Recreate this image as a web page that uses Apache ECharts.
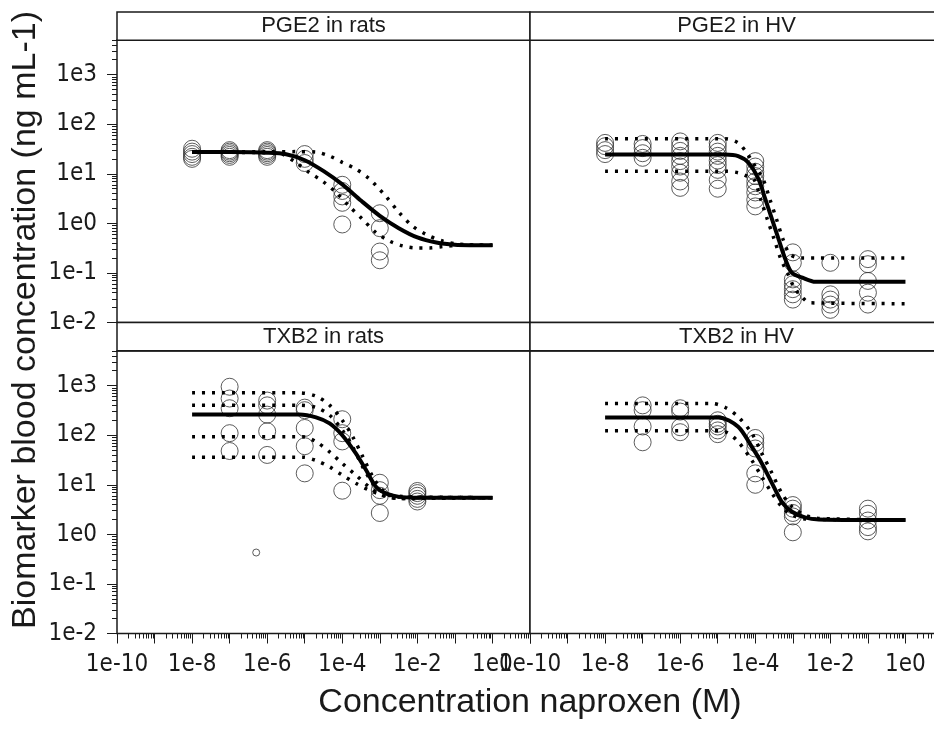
<!DOCTYPE html>
<html>
<head>
<meta charset="utf-8">
<script src="https://cdn.jsdelivr.net/npm/echarts@6/dist/echarts.min.js"></script>
<style>
html, body { margin: 0; padding: 0; background: #fff; overflow: hidden; }
#main { width: 950px; height: 738px; }
</style>
</head>
<body>
<div id="main"></div>
<script>
// the lattice runs past the right edge of the 934px window, so the chart is a little wider
var chart = echarts.init(document.getElementById('main'));

// panels and axis labels
var panelNames = ['PGE2 in rats', 'PGE2 in HV', 'TXB2 in rats', 'TXB2 in HV'];
var xTickValues = [1e-10, 1e-8, 1e-6, 1e-4, 1e-2, 1e0];
var xTickLabels = ['1e-10', '1e-8', '1e-6', '1e-4', '1e-2', '1e0'];
var yTickValues = [1e-2, 1e-1, 1e0, 1e1, 1e2, 1e3];
var yTickLabels = ['1e-2', '1e-1', '1e0', '1e1', '1e2', '1e3'];

// observed biomarker values [conc (M), value (ng/mL)]
var pge2RatsObs = [
  [1e-8, 32], [1e-8, 28], [1e-8, 25], [1e-8, 22], [1e-8, 20],
  [1e-7, 30], [1e-7, 28], [1e-7, 26], [1e-7, 24], [1e-7, 22],
  [1e-6, 30], [1e-6, 28], [1e-6, 26], [1e-6, 24], [1e-6, 22],
  [1e-5, 25], [1e-5, 20], [1e-5, 16.5],
  [1e-4, 6], [1e-4, 4.5], [1e-4, 3.5], [1e-4, 2.6], [1e-4, 0.95],
  [1e-3, 1.6], [1e-3, 0.8], [1e-3, 0.27], [1e-3, 0.18]
];
var pge2HvObs = [
  [1e-8, 42], [1e-8, 36], [1e-8, 30], [1e-8, 25],
  [1e-7, 40], [1e-7, 33], [1e-7, 26], [1e-7, 21],
  [1e-6, 45], [1e-6, 36], [1e-6, 29], [1e-6, 23], [1e-6, 18], [1e-6, 14], [1e-6, 10.5], [1e-6, 7], [1e-6, 5.2],
  [1e-5, 42], [1e-5, 35], [1e-5, 28], [1e-5, 23], [1e-5, 18.5], [1e-5, 15], [1e-5, 12], [1e-5, 7.5], [1e-5, 5],
  [1e-4, 18], [1e-4, 14], [1e-4, 11], [1e-4, 9], [1e-4, 7], [1e-4, 5.6], [1e-4, 4.2], [1e-4, 3], [1e-4, 2.2],
  [1e-3, 0.26], [1e-3, 0.16], [1e-3, 0.074], [1e-3, 0.059], [1e-3, 0.047], [1e-3, 0.037], [1e-3, 0.029],
  [1e-2, 0.16], [1e-2, 0.037], [1e-2, 0.029], [1e-2, 0.023], [1e-2, 0.018],
  [1e-1, 0.19], [1e-1, 0.15], [1e-1, 0.069], [1e-1, 0.04], [1e-1, 0.023]
];
var txb2RatsObs = [
  [1e-7, 950], [1e-7, 550], [1e-7, 350], [1e-7, 110], [1e-7, 48],
  [1e-6, 500], [1e-6, 400], [1e-6, 260], [1e-6, 120], [1e-6, 40],
  [1e-5, 360], [1e-5, 320], [1e-5, 140], [1e-5, 60], [1e-5, 17],
  [1e-4, 210], [1e-4, 110], [1e-4, 75], [1e-4, 7.6],
  [1e-3, 11], [1e-3, 7.8], [1e-3, 6], [1e-3, 2.7],
  [1e-2, 7.5], [1e-2, 6.8], [1e-2, 6], [1e-2, 5.2], [1e-2, 4.6]
];
var txb2RatsSmall = [[5.1e-7, 0.43]];
var txb2HvObs = [
  [1e-7, 400], [1e-7, 320], [1e-7, 150], [1e-7, 72],
  [1e-6, 350], [1e-6, 300], [1e-6, 145], [1e-6, 115],
  [1e-5, 200], [1e-5, 170], [1e-5, 150], [1e-5, 125], [1e-5, 105],
  [1e-4, 88], [1e-4, 70], [1e-4, 54], [1e-4, 17], [1e-4, 10],
  [1e-3, 3.9], [1e-3, 3.3], [1e-3, 2.7], [1e-3, 2.3], [1e-3, 1.1],
  [1e-1, 3.3], [1e-1, 2.6], [1e-1, 1.9], [1e-1, 1.4], [1e-1, 1.15]
];

// fitted curves (solid) and interval curves (dotted)
var pge2RatsFit = [[1e-8, 27.5], [1e-7, 27.4], [1e-6, 26.6], [3.2e-6, 24.8], [1e-5, 18.8], [3.2e-5, 11.3], [1e-4, 6.1],
  [3.2e-4, 2.85], [1e-3, 1.42], [3.2e-3, 0.8], [1e-2, 0.52], [3.2e-2, 0.41], [0.1, 0.37], [0.32, 0.362], [1, 0.36]];
var pge2RatsUpper = [[1e-8, 27.5], [1e-6, 27.8], [6e-6, 28], [2e-5, 27.4], [4.6e-5, 22.8], [1e-4, 17], [2.3e-4, 12.5],
  [5.2e-4, 8], [7.9e-4, 5.8], [1.45e-3, 3.5], [3.3e-3, 1.64], [7.4e-3, 0.88], [1.7e-2, 0.6], [4.7e-2, 0.44], [0.13, 0.38], [1, 0.36]];
var pge2RatsLower = [[1e-8, 27.3], [1e-6, 26.5], [2.6e-6, 24.6], [5.9e-6, 16.7], [1.35e-5, 10.5], [3e-5, 7.1], [6.8e-5, 4.2],
  [1.55e-4, 2.2], [3.5e-4, 1.2], [7.9e-4, 0.65], [1.8e-3, 0.44], [4.1e-3, 0.35], [9.1e-3, 0.32], [2.1e-2, 0.32], [4.7e-2, 0.34], [0.13, 0.36], [1, 0.36]];

var pge2HvFit = [[1e-8, 24.6], [1.6e-5, 24.6], [3.5e-5, 22.8], [6.6e-5, 16.7], [1.23e-4, 7.7], [1.86e-4, 3.05], [2.8e-4, 1.2],
  [4.2e-4, 0.475], [6.3e-4, 0.19], [9.5e-4, 0.1], [1.8e-3, 0.08], [4e-3, 0.066], [1, 0.066]];
var pge2HvUpper = [[1e-8, 51], [1.6e-5, 51], [3.5e-5, 42], [5.6e-5, 28], [8.7e-5, 16.7], [1.62e-4, 7.7], [2.45e-4, 3.05],
  [3.7e-4, 1.2], [5.5e-4, 0.475], [8.3e-4, 0.24], [1.6e-3, 0.2], [1, 0.2]];
var pge2HvLower = [[1e-8, 11.3], [1.6e-5, 11.3], [3.5e-5, 10.5], [6e-5, 9], [9.3e-5, 7.7], [1.4e-4, 3.05], [2.1e-4, 1.2],
  [3.2e-4, 0.475], [4.8e-4, 0.19], [7.2e-4, 0.1], [1.1e-3, 0.05], [1.8e-3, 0.032], [2.8e-3, 0.025], [1, 0.024]];

var txb2RatsFit = [[1e-8, 262], [7.2e-6, 262], [2e-5, 229], [4.6e-5, 173], [1e-4, 100], [2.3e-4, 43], [4.3e-4, 19.8],
  [7.9e-4, 9.1], [1.45e-3, 6.7], [3.3e-3, 5.7], [9.1e-3, 5.5], [1, 5.5]];
var txb2RatsBand1 = [[1e-8, 716], [7.2e-6, 716], [2e-5, 614], [4.6e-5, 404], [1e-4, 201], [1.9e-4, 93], [3.5e-4, 37],
  [6.5e-4, 14.5], [1.17e-3, 7.8], [2.7e-3, 5.9], [1, 5.5]];
var txb2RatsBand2 = [[1e-8, 404], [7.2e-6, 404], [2e-5, 363], [4.6e-5, 254], [1e-4, 127], [1.9e-4, 58], [3.5e-4, 23],
  [6.5e-4, 10.7], [1.17e-3, 7.2], [2.7e-3, 5.7], [1, 5.5]];
var txb2RatsBand3 = [[1e-8, 93], [8.9e-6, 93], [2e-5, 74], [4.6e-5, 46], [1e-4, 27], [2.3e-4, 15.7], [5.2e-4, 9.1],
  [1.17e-3, 6.2], [3.3e-3, 5.3], [1, 5.5]];
var txb2RatsBand4 = [[1e-8, 36], [8.9e-6, 36], [2e-5, 31], [4.6e-5, 23], [1e-4, 15.7], [2.3e-4, 10.7], [5.2e-4, 7.8],
  [1.17e-3, 6.2], [3.3e-3, 5.3], [1, 5.5]];

var txb2HvFit = [[1e-8, 229], [1.05e-5, 229], [3.5e-5, 148], [8.1e-5, 58], [1.5e-4, 27], [2.8e-4, 10.7], [5.1e-4, 4.5],
  [9.5e-4, 2.86], [2.1e-3, 2.2], [4.9e-3, 2.0], [1, 1.94]];
var txb2HvUpper = [[1e-8, 437], [7.1e-6, 437], [1.6e-5, 363], [3.5e-5, 235], [8.1e-5, 109], [1.5e-4, 43], [2.8e-4, 17],
  [5.1e-4, 6.7], [9.5e-4, 3.6], [2.1e-3, 2.45], [4.9e-3, 2.1], [1, 1.94]];
var txb2HvLower = [[1e-8, 123], [7.1e-6, 123], [1.6e-5, 117], [3.5e-5, 74], [8.1e-5, 31], [1.5e-4, 14.5], [2.8e-4, 6.7],
  [5.1e-4, 3.6], [9.5e-4, 2.45], [2.1e-3, 2.05], [1, 1.94]];

var panelObs = [pge2RatsObs, pge2HvObs, txb2RatsObs, txb2HvObs];
var panelFit = [pge2RatsFit, pge2HvFit, txb2RatsFit, txb2HvFit];
var panelBands = [
  [pge2RatsUpper, pge2RatsLower],
  [pge2HvUpper, pge2HvLower],
  [txb2RatsBand1, txb2RatsBand2, txb2RatsBand3, txb2RatsBand4],
  [txb2HvUpper, txb2HvLower]
];

// layout of the lattice
var panelLeft = [117, 530, 117, 530];
var panelTop = [40, 40, 351, 351];
var panelW = 413;
var panelH = 282.5;
var stripTop = [12, 12, 322.5, 322.5];
var stripH = 28.2;

var tickFont = "'Liberation Sans Narrow', 'Arial Narrow', 'DejaVu Sans Condensed', sans-serif";
var ink = '#1a1a1a';

// decade ticks and the 2..9 minor ticks for the log axes
function decades(lo, hi) {
  var out = [];
  for (var e = lo; e <= hi; e++) out.push(Number('1e' + e));
  return out;
}
function minors(lo, hi) {
  var out = [];
  for (var e = lo; e < hi; e++) {
    for (var k = 2; k <= 9; k++) out.push(Number(k + 'e' + e));
  }
  return out;
}
var xMajor = decades(-10, 1);
var xMinor = minors(-10, 1);
var yMajor = decades(-2, 3);
var yMinor = minors(-2, 4).filter(function (v) { return v <= 5000; });

function labelOf(values, labels) {
  return function (v) {
    var e = Math.round(Math.log10(v));
    for (var i = 0; i < values.length; i++) {
      if (Math.round(Math.log10(values[i])) === e) return labels[i];
    }
    return '';
  };
}

var grids = [], xAxes = [], yAxes = [], series = [];
for (var p = 0; p < 4; p++) {
  grids.push({
    left: panelLeft[p], top: panelTop[p], width: panelW, height: panelH,
    show: true, borderColor: ink, borderWidth: 1.5, backgroundColor: '#fff'
  });
}
[false, true].forEach(function (isMinor) {
  for (var p = 0; p < 4; p++) {
    var bottomRow = p >= 2, leftCol = p % 2 === 0;
    xAxes.push({
      type: 'log', logBase: 10, gridIndex: p, min: 1e-10, max: 10, position: 'bottom',
      axisLine: { show: false }, splitLine: { show: false },
      axisTick: { show: bottomRow, customValues: isMinor ? xMinor : xMajor, length: isMinor ? 5 : 10,
        lineStyle: { color: ink, width: 1 } },
      axisLabel: { show: bottomRow && !isMinor, customValues: xTickValues,
        formatter: labelOf(xTickValues, xTickLabels),
        fontSize: 24, fontFamily: tickFont, color: ink, margin: 19 }
    });
    yAxes.push({
      type: 'log', logBase: 10, gridIndex: p, min: 0.01, max: 5000, position: 'left',
      axisLine: { show: false }, splitLine: { show: false },
      axisTick: { show: leftCol, customValues: isMinor ? yMinor : yMajor, length: isMinor ? 5 : 10,
        lineStyle: { color: ink, width: 1 } },
      axisLabel: { show: leftCol && !isMinor, customValues: yTickValues,
        formatter: labelOf(yTickValues, yTickLabels),
        fontSize: 24, fontFamily: tickFont, color: ink, margin: 20 }
    });
  }
});

for (var p = 0; p < 4; p++) {
  series.push({
    type: 'scatter', xAxisIndex: p, yAxisIndex: p, data: panelObs[p],
    symbol: 'circle', symbolSize: 17, silent: true,
    itemStyle: { color: 'rgba(0,0,0,0)', borderColor: '#333', borderWidth: 1 }
  });
  panelBands[p].forEach(function (band) {
    series.push({
      type: 'line', xAxisIndex: p, yAxisIndex: p, data: band, showSymbol: false, smooth: 0.3,
      lineStyle: { color: '#000', width: 3.5, type: [3, 7], cap: 'butt' }, silent: true
    });
  });
  series.push({
    type: 'line', xAxisIndex: p, yAxisIndex: p, data: panelFit[p], showSymbol: false, smooth: 0.3,
    lineStyle: { color: '#000', width: 4 }, silent: true
  });
}
series.push({
  type: 'scatter', xAxisIndex: 2, yAxisIndex: 2, data: txb2RatsSmall,
  symbol: 'circle', symbolSize: 7, silent: true,
  itemStyle: { color: 'rgba(0,0,0,0)', borderColor: '#333', borderWidth: 1 }
});

// strips with panel names, plus the shared axis titles
var graphics = [];
for (var p = 0; p < 4; p++) {
  graphics.push({
    type: 'rect', silent: true, z: 10,
    shape: { x: panelLeft[p], y: stripTop[p], width: panelW, height: stripH },
    style: { fill: '#fff', stroke: ink, lineWidth: 1.5 }
  });
  graphics.push({
    type: 'text', silent: true, z: 11,
    x: panelLeft[p] + panelW / 2, y: stripTop[p] + stripH / 2,
    style: { text: panelNames[p], fill: ink, font: "22px 'Liberation Sans', Arial, sans-serif",
      textAlign: 'center', textVerticalAlign: 'middle' }
  });
}
graphics.push({
  type: 'text', silent: true, x: 530, y: 703,
  style: { text: 'Concentration naproxen (M)', fill: ink, font: "34px 'Liberation Sans', Arial, sans-serif",
    textAlign: 'center', textVerticalAlign: 'middle' }
});
graphics.push({
  type: 'text', silent: true, x: 26, y: 320, rotation: Math.PI / 2,
  style: { text: 'Biomarker blood concentration (ng mL-1)', fill: ink, font: "34px 'Liberation Sans', Arial, sans-serif",
    textAlign: 'center', textVerticalAlign: 'middle' }
});

var option = {
  backgroundColor: '#fff',
  animation: false,
  grid: grids,
  xAxis: xAxes,
  yAxis: yAxes,
  series: series,
  graphic: graphics
};
chart.setOption(option);
</script>
</body>
</html>
